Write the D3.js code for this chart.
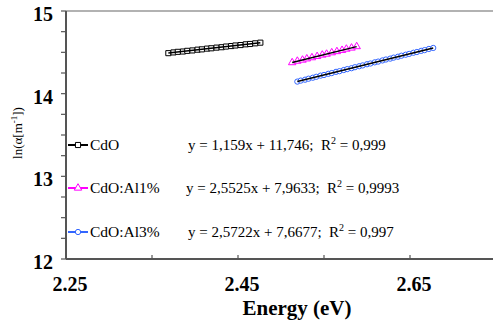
<!DOCTYPE html>
<html>
<head>
<meta charset="utf-8">
<script src="https://cdn.jsdelivr.net/npm/d3@7"></script>
<style>
  body { margin: 0; background: #fff; }
  svg text { font-family: "Liberation Serif", "Times New Roman", Times, serif; }
</style>
</head>
<body>
<svg id="chart" width="493" height="322"></svg>
<script>
// measured points, ln(alpha) vs photon energy
const cdoX = [2.369, 2.375, 2.380, 2.386, 2.391, 2.397, 2.403, 2.408, 2.414, 2.419,
              2.425, 2.431, 2.436, 2.442, 2.447, 2.453, 2.459, 2.464, 2.470, 2.476];
const cdoY = [14.490, 14.499, 14.506, 14.510, 14.518, 14.523, 14.532, 14.536, 14.545, 14.549,
              14.557, 14.562, 14.570, 14.576, 14.583, 14.588, 14.597, 14.601, 14.609, 14.617];

const al1X = [2.513, 2.519, 2.525, 2.530, 2.536, 2.542, 2.548, 2.553, 2.559, 2.565,
              2.571, 2.576, 2.582, 2.588];
const al1Y = [14.376, 14.394, 14.407, 14.422, 14.436, 14.451, 14.468, 14.479, 14.496, 14.510,
              14.525, 14.540, 14.553, 14.570];

const al3X = [2.519, 2.523, 2.528, 2.532, 2.537, 2.541, 2.546, 2.550, 2.555, 2.559,
              2.564, 2.568, 2.573, 2.577, 2.582, 2.586, 2.591, 2.595, 2.600, 2.604,
              2.609, 2.613, 2.618, 2.622, 2.627, 2.631, 2.636, 2.640, 2.645, 2.649,
              2.654, 2.658, 2.663, 2.667, 2.672, 2.677];
const al3Y = [14.146, 14.158, 14.169, 14.181, 14.193, 14.204, 14.218, 14.226, 14.240, 14.249,
              14.264, 14.272, 14.286, 14.297, 14.308, 14.320, 14.332, 14.342, 14.356, 14.365,
              14.379, 14.388, 14.402, 14.413, 14.424, 14.436, 14.447, 14.459, 14.471, 14.481,
              14.495, 14.504, 14.518, 14.527, 14.541, 14.553];

// linear fits as printed on the chart
const seriesNames = ["CdO", "CdO:Al1%", "CdO:Al3%"];
const slopes = [1.159, 2.5525, 2.5722];
const intercepts = [11.746, 7.9633, 7.6677];
const fitText = ["y = 1,159x + 11,746;  R", "y = 2,5525x + 7,9633;  R", "y = 2,5722x + 7,6677;  R"];
const r2Text = [" = 0,999", " = 0,9993", " = 0,997"];

const xTicks = [2.25, 2.45, 2.65];
const xMinor = [2.35, 2.55, 2.75];
const yTicks = [12, 13, 14, 15];

const colors = ["#000000", "#ff00ff", "#3366ff"];
const symbols = [d3.symbolSquare, d3.symbolTriangle, d3.symbolCircle];
const serif = "Liberation Serif, Times New Roman, serif";

const svg = d3.select("#chart");
const x = d3.scaleLinear().domain([2.25, 2.75]).range([66, 496]);
const y = d3.scaleLinear().domain([12, 15]).range([259, 11]);

// top frame line
svg.append("line")
    .attr("x1", x(2.25)).attr("x2", 493)
    .attr("y1", y(15)).attr("y2", y(15))
    .attr("stroke", "#999").attr("stroke-width", 1.5);

// y axis
svg.append("line")
    .attr("x1", x(2.25)).attr("x2", x(2.25))
    .attr("y1", y(15)).attr("y2", y(12))
    .attr("stroke", "#555").attr("stroke-width", 2);
d3.range(12, 15.01, 0.25).forEach(v => {
    svg.append("line")
        .attr("x1", x(2.25) - 5).attr("x2", x(2.25))
        .attr("y1", y(v)).attr("y2", y(v))
        .attr("stroke", "#555").attr("stroke-width", 1.2);
});
svg.append("g").selectAll("text")
    .data(yTicks)
    .enter().append("text")
    .attr("x", 53)
    .attr("y", d => y(d) + 10)
    .attr("text-anchor", "end")
    .attr("font-family", serif)
    .attr("font-size", 20)
    .attr("font-weight", "bold")
    .text(d => d);

// x axis
svg.append("line")
    .attr("x1", x(2.25)).attr("x2", 493)
    .attr("y1", y(12)).attr("y2", y(12))
    .attr("stroke", "#555").attr("stroke-width", 2);
xTicks.concat(xMinor).forEach(v => {
    svg.append("line")
        .attr("x1", x(v)).attr("x2", x(v))
        .attr("y1", y(12) - 4).attr("y2", y(12))
        .attr("stroke", "#555").attr("stroke-width", 1.2);
});
svg.append("g").selectAll("text")
    .data(xTicks)
    .enter().append("text")
    .attr("x", d => x(d) + 4)
    .attr("y", 291)
    .attr("text-anchor", "middle")
    .attr("font-family", serif)
    .attr("font-size", 20)
    .attr("font-weight", "bold")
    .text(d => d.toFixed(2));

svg.append("text")
    .attr("x", 297).attr("y", 315)
    .attr("text-anchor", "middle")
    .attr("font-family", serif)
    .attr("font-size", 21)
    .attr("font-weight", "bold")
    .text("Energy (eV)");

const yLabel = svg.append("text")
    .attr("transform", "translate(22,133) rotate(-90)")
    .attr("text-anchor", "middle")
    .attr("font-family", serif)
    .attr("font-size", 13);
yLabel.append("tspan").text("ln(α[m");
yLabel.append("tspan").attr("dy", -5).attr("font-size", 9).text("-1");
yLabel.append("tspan").attr("dy", 5).text("])");

// data series
const seriesX = [cdoX, al1X, al3X];
const seriesY = [cdoY, al1Y, al3Y];
const markerSize = [26, 24, 22];

seriesX.forEach((xs, i) => {
    const pts = xs.map((v, j) => [v, seriesY[i][j]]);
    svg.append("path")
        .datum(pts)
        .attr("fill", "none")
        .attr("stroke", colors[i])
        .attr("stroke-width", 1)
        .attr("d", d3.line().x(d => x(d[0])).y(d => y(d[1])));
    svg.append("g").selectAll("path")
        .data(pts)
        .enter().append("path")
        .attr("transform", d => `translate(${x(d[0])},${y(d[1])})`)
        .attr("d", d3.symbol().type(symbols[i]).size(markerSize[i]))
        .attr("fill", "white")
        .attr("stroke", colors[i])
        .attr("stroke-width", 1);
});

// fit lines
seriesX.forEach((xs, i) => {
    const ext = d3.extent(xs);
    svg.append("line")
        .attr("x1", x(ext[0])).attr("x2", x(ext[1]))
        .attr("y1", y(slopes[i] * ext[0] + intercepts[i]))
        .attr("y2", y(slopes[i] * ext[1] + intercepts[i]))
        .attr("stroke", "black")
        .attr("stroke-width", 1.5);
});

// legend + equations
const rowY = [145, 188, 232];
const eqX = [188, 186, 188];
seriesNames.forEach((name, i) => {
    svg.append("line")
        .attr("x1", 68).attr("x2", 88)
        .attr("y1", rowY[i]).attr("y2", rowY[i])
        .attr("stroke", colors[i]).attr("stroke-width", 2);
    svg.append("path")
        .attr("transform", `translate(78,${rowY[i]})`)
        .attr("d", d3.symbol().type(symbols[i]).size(markerSize[i]))
        .attr("fill", "white")
        .attr("stroke", colors[i])
        .attr("stroke-width", 1);
    svg.append("text")
        .attr("x", 90).attr("y", rowY[i] + 5)
        .attr("font-family", serif)
        .attr("font-size", 15.5)
        .text(name);

    const eq = svg.append("text")
        .attr("x", eqX[i]).attr("y", rowY[i] + 5)
        .attr("font-family", serif)
        .attr("font-size", 15)
        .attr("xml:space", "preserve");
    eq.append("tspan").text(fitText[i]);
    eq.append("tspan").attr("dy", -6).attr("font-size", 10).text("2");
    eq.append("tspan").attr("dy", 6).text(r2Text[i]);
});
</script>
</body>
</html>
